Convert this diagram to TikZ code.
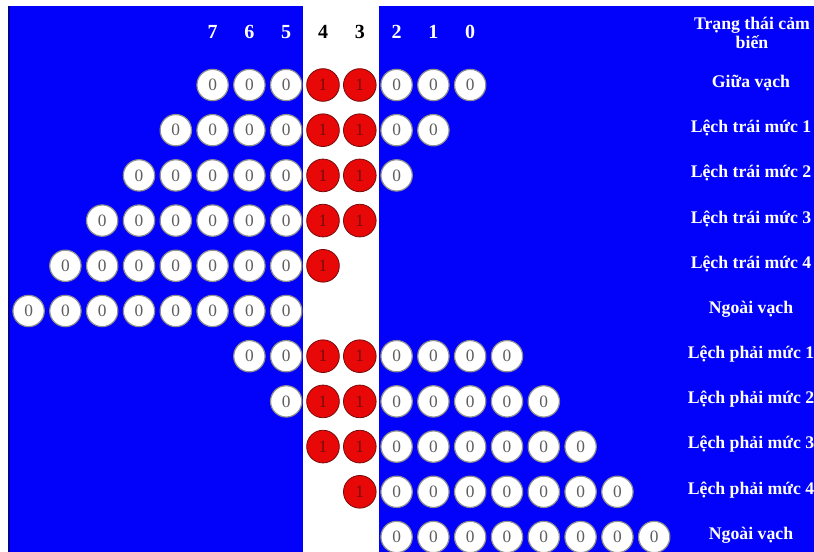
\documentclass[tikz,border=0pt]{standalone}
\usepackage{fontspec}
\setmainfont{Liberation Serif}
\usepackage{tikz}

\definecolor{sfondo}{RGB}{2,2,250}
\definecolor{rosso}{RGB}{232,8,8}
\definecolor{bordorosso}{RGB}{120,10,10}
\definecolor{grigio}{RGB}{95,95,95}

\tikzset{
  zero/.style={circle, draw=grigio!70, line width=0.9pt, fill=white, minimum size=23.5pt,
    inner sep=0pt, text=grigio, font=\fontsize{13}{13}\selectfont},
  uno/.style={circle, draw=bordorosso, line width=0.6pt, fill=rosso, minimum size=24.5pt,
    inner sep=0pt, text=bordorosso, font=\fontsize{13}{13}\selectfont},
  numero/.style={font=\fontsize{15}{15}\selectfont\bfseries},
  etichetta/.style={text=white, align=center, font=\fontsize{13.3}{12.5}\selectfont\bfseries}
}

\begin{document}
\begin{tikzpicture}[x=0.75pt,y=-0.75pt]
    \useasboundingbox (0,0) rectangle (814,552);

    % sfondo
    \fill[white] (0,0) rectangle (814,552);
    \fill[sfondo] (8,6) rectangle (814,552);
    \draw[sfondo!60!black, line width=1.5pt] (9,6) -- (9,552);
    \fill[white] (303,6) rectangle (379,552);

    % intestazione sensori
    \foreach \n/\g in {7/-3,6/-2,5/-1,2/2,1/3,0/4}
        \node[numero, text=white] (s\n) at ({323+36.8*\g},32) {\n};
    \node[numero, text=black] (s4) at (323,32) {4};
    \node[numero, text=black] (s3) at ({323+36.8},32) {3};

    % sensori a 0
    \foreach \r/\lista in {1/{-3,-2,-1,2,3,4}, 2/{-4,-3,-2,-1,2,3},
        3/{-5,-4,-3,-2,-1,2}, 4/{-6,-5,-4,-3,-2,-1}, 5/{-7,-6,-5,-4,-3,-2,-1},
        6/{-8,-7,-6,-5,-4,-3,-2,-1}, 7/{-2,-1,2,3,4,5}, 8/{-1,2,3,4,5,6},
        9/{2,3,4,5,6,7}, 10/{2,3,4,5,6,7,8}, 11/{2,3,4,5,6,7,8,9}}
        \foreach \g in \lista
            \node[zero] (c\r-\g) at ({323+36.8*\g},{85+45.2*(\r-1)}) {0};

    % sensori a 1
    \foreach \r/\lista in {1/{0,1}, 2/{0,1}, 3/{0,1}, 4/{0,1}, 5/{0},
        7/{0,1}, 8/{0,1}, 9/{0,1}, 10/{1}}
        \foreach \g in \lista
            \node[uno] (c\r-\g) at ({323+36.8*\g},{85+45.2*(\r-1)}) {1};

    % etichette
    \node[etichetta] (titolo) at (752,33) {Trạng thái cảm\\biến};
    \foreach \r/\testo in {1/Giữa vạch, 2/Lệch trái mức 1, 3/Lệch trái mức 2,
        4/Lệch trái mức 3, 5/Lệch trái mức 4, 6/Ngoài vạch, 7/Lệch phải mức 1,
        8/Lệch phải mức 2, 9/Lệch phải mức 3, 10/Lệch phải mức 4, 11/Ngoài vạch}
        \node[etichetta] (l\r) at (751,{83+45.2*(\r-1)}) {\testo};
\end{tikzpicture}
\end{document}
